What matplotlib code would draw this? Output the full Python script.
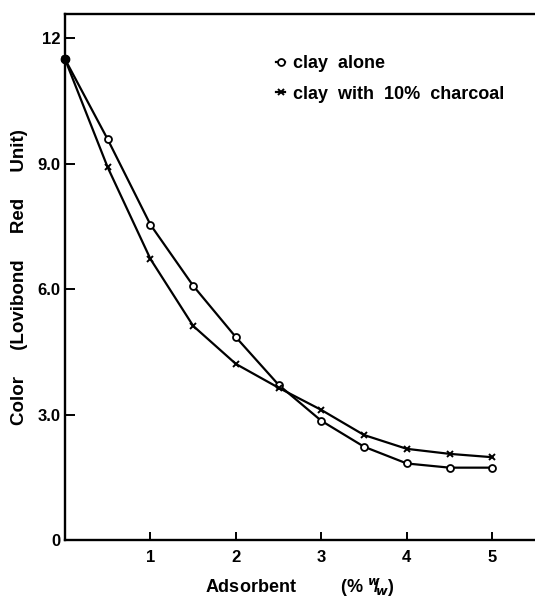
import matplotlib.pyplot as plt

# values
adsorbent = [0, 0.5, 1, 1.5, 2, 2.5, 3, 3.5, 4, 4.5, 5]
clay_alone = [11.5, 9.58, 7.54, 6.08, 4.85, 3.71, 2.85, 2.23, 1.83, 1.73, 1.73]
clay_charcoal = [11.5, 8.91, 6.72, 5.12, 4.21, 3.64, 3.11, 2.51, 2.18, 2.06, 1.98]

x_ticks = [1, 2, 3, 4, 5]
y_ticks = [0, 3, 6, 9, 12]
y_labels = ["0", "3.0", "6.0", "9.0", "12"]

plt.rcParams['font.family'] = ['Liberation Sans', 'DejaVu Sans']
plt.rcParams['font.weight'] = 'bold'
plt.rcParams['mathtext.fontset'] = 'custom'
plt.rcParams['mathtext.bf'] = 'Liberation Sans:bold'
plt.rcParams['mathtext.rm'] = 'Liberation Sans:bold'

fig = plt.figure(figsize=(5.35, 5.98), dpi=100)
ax = fig.add_axes([0.1215, 0.097, 0.8785, 0.8796])

ax.plot(adsorbent, clay_alone, color='black', lw=1.6, marker='o', ms=5,
        mfc='white', mec='black', mew=1.3, label='clay  alone', clip_on=False, zorder=3)
ax.plot(adsorbent, clay_charcoal, color='black', lw=1.6, marker='x', ms=5,
        mew=1.4, label='clay  with  10%  charcoal', clip_on=False, zorder=3)
ax.plot([0], [clay_alone[0]], 'o', color='black', ms=6, clip_on=False, zorder=4)

ax.set_xlim(0, 5.5)
ax.set_ylim(0, 12.58)
ax.set_xticks(x_ticks)
ax.set_yticks(y_ticks)
ax.set_yticklabels(y_labels)

for s in ['left', 'bottom', 'top']:
    ax.spines[s].set_linewidth(1.7)
ax.spines['right'].set_visible(False)

ax.tick_params(axis='both', direction='in', width=1.4, labelsize=12)
ax.tick_params(axis='x', length=6, pad=7)
ax.tick_params(axis='y', length=7, pad=3)

ax.set_xlabel(r"Adsorbent         (% $^{w}\!\!/\!_{w}$)", fontsize=13, fontweight='bold', labelpad=8)
ax.set_ylabel("Color     (Lovibond     Red     Unit)", fontsize=13.5, fontweight='bold', labelpad=7)

leg = ax.legend(loc='upper left', bbox_to_anchor=(0.415, 0.953), frameon=False,
                handlelength=0.5, handletextpad=0.4, labelspacing=0.75,
                prop={'size': 13, 'weight': 'bold'})

fig.savefig('out.png', dpi=100)
